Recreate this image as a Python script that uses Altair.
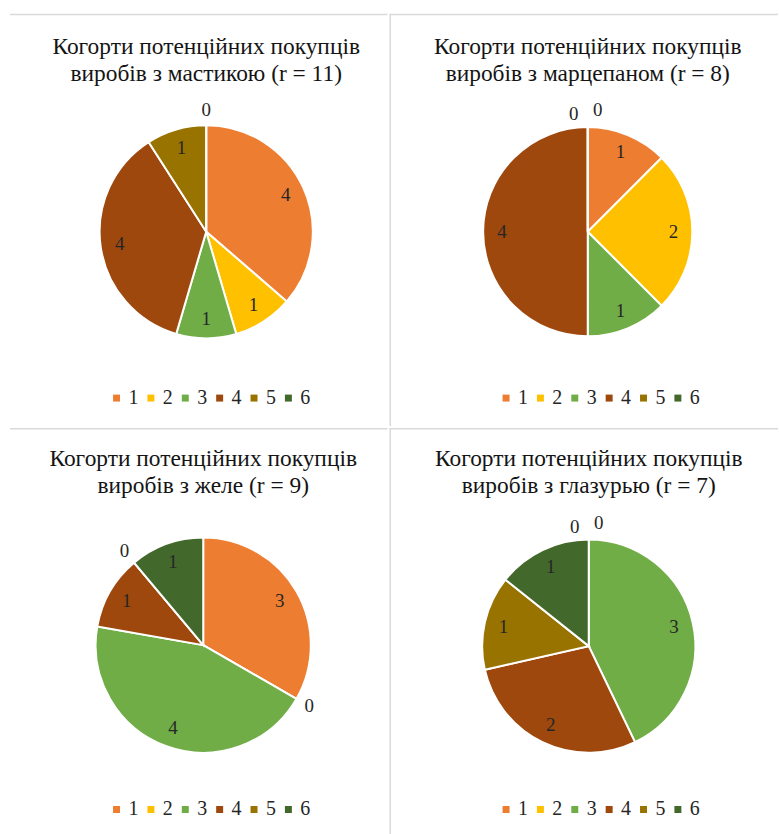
import altair as alt
import pandas as pd

categories = ['1', '2', '3', '4', '5', '6']
colors = ['#ED7D31', '#FFC000', '#70AD47', '#9E480E', '#997300', '#43682B']

title_line1 = 'Когорти потенційних покупців'
title_line2 = ['виробів з мастикою (r = 11)', 'виробів з марцепаном (r = 8)',
               'виробів з желе (r = 9)', 'виробів з глазурью (r = 7)']

mastyka = [4, 1, 1, 4, 1, 0]
martsypan = [1, 2, 1, 4, 0, 0]
zhele = [3, 0, 4, 1, 0, 1]
hlazur = [0, 0, 3, 2, 1, 1]

FONT = "'Liberation Serif', 'Times New Roman', serif"
GRID = '#d9d9d9'


def zero_positions(values):
    keys, cum = [], 0
    for v in values:
        cum += v
        keys.append(cum - v / 2)
    pos = []
    for i, v in enumerate(values):
        if v != 0:
            pos.append('in')
            continue
        same = [j for j, (vv, k) in enumerate(zip(values, keys)) if vv == 0 and k == keys[i]]
        if len(same) == 1:
            pos.append('c')
        elif same.index(i) == 0:
            pos.append('l')
        else:
            pos.append('r')
    return pos


def panel(values, line2, w, h, cx, cy, r, ty, ly, grid):
    df = pd.DataFrame({'cat': categories, 'idx': list(range(6)), 'value': values,
                       'pos': zero_positions(values)})
    total = sum(values)
    tscale = alt.Scale(domain=[0, total])
    base = alt.Chart(df).transform_window(
        cum='sum(value)', sort=[alt.SortField('idx')], frame=[None, 0]
    ).transform_calculate(
        start='datum.cum - datum.value', mid='datum.cum - datum.value / 2'
    )
    arcs = base.mark_arc(stroke='white', strokeWidth=2, outerRadius=r).encode(
        theta=alt.Theta('start:Q', scale=tscale, stack=None),
        theta2=alt.Theta2('cum:Q'),
        color=alt.Color('cat:N', scale=alt.Scale(domain=categories, range=colors),
                        legend=alt.Legend(title=None, orient='none', legendX=107, legendY=ly,
                                          direction='horizontal', symbolType='square',
                                          symbolSize=49, symbolStrokeWidth=0, symbolOpacity=1,
                                          labelFont=FONT, labelFontSize=20, labelColor='#262626',
                                          labelOffset=2, columnPadding=2.5)),
        order=alt.Order('idx:Q'),
        x=alt.value(cx), y=alt.value(cy),
    )
    txt = dict(font=FONT, fontSize=19, color='#262626', align='center', baseline='middle')
    enc = dict(theta=alt.Theta('mid:Q', scale=tscale, stack=None), text='value:Q',
               x=alt.value(cx), y=alt.value(cy))
    inside = base.transform_filter("datum.value > 0").mark_text(radius=r * 0.82, **txt).encode(**enc)
    zc = base.transform_filter("datum.pos == 'c'").mark_text(radius=r + 15, **txt).encode(**enc)
    zl = base.transform_filter("datum.pos == 'l'").mark_text(radius=r + 15, dx=-14, dy=2, **txt).encode(**enc)
    zr = base.transform_filter("datum.pos == 'r'").mark_text(radius=r + 15, dx=10, dy=-2, **txt).encode(**enc)

    one = pd.DataFrame({'a': [0]})
    title = alt.Chart(one).mark_text(
        text=[title_line1, line2], font=FONT, fontSize=23.5, color='#141414',
        lineHeight=27, align='center', baseline='alphabetic'
    ).encode(x=alt.value(cx), y=alt.value(ty))

    rules = []
    for (x0, x1, y0, y1) in grid:
        rules.append(alt.Chart(one).mark_rule(color=GRID, strokeWidth=1.5).encode(
            x=alt.value(x0), x2=alt.value(x1), y=alt.value(y0), y2=alt.value(y1)))

    return alt.layer(*rules, arcs, inside, zc, zl, zr, title).properties(width=w, height=h)


p1 = panel(mastyka, title_line2[0], 389, 426, 207, 231, 107, 53, 388,
           [(10, 389, 13, 13)])
p2 = panel(martsypan, title_line2[1], 390, 426, 199, 231, 105, 53, 388,
           [(0, 390, 13, 13), (0.75, 0.75, 13, 426)])
p3 = panel(zhele, title_line2[2], 389, 408, 204, 218, 108, 38, 373,
           [(10, 389, 0.75, 0.75)])
p4 = panel(hlazur, title_line2[3], 390, 408, 200, 219, 107, 38, 373,
           [(0, 390, 0.75, 0.75), (0.75, 0.75, 0, 408)])

res = dict(theta='independent', color='independent')
row1 = alt.hconcat(p1, p2, spacing=0).resolve_scale(**res)
row2 = alt.hconcat(p3, p4, spacing=0).resolve_scale(**res)
chart = alt.vconcat(row1, row2, spacing=0).resolve_scale(**res).properties(
    padding=0, background='white'
).configure_view(stroke=None)

chart.save("out.html", embed_options={"renderer": "svg", "actions": False})
